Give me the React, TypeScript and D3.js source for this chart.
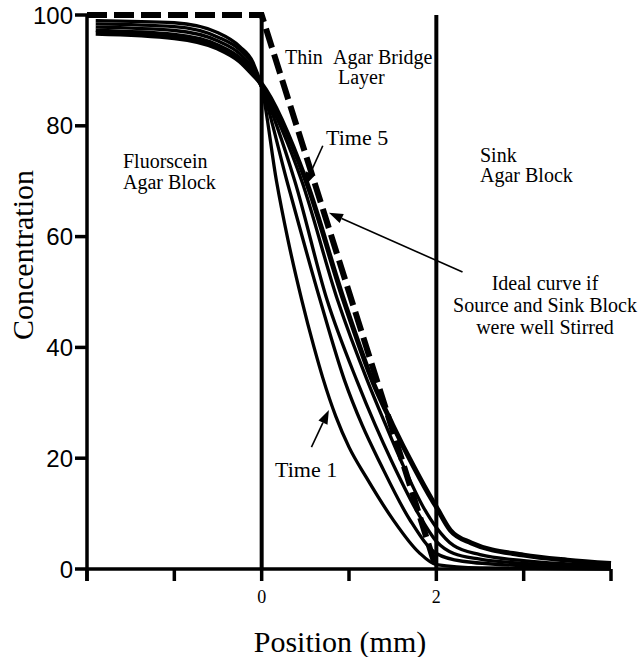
import React from 'react';
import * as d3 from 'd3';

// concentration profiles, [position mm, concentration]
const time1 = [[-1.9, 99.0], [-1, 98.6], [-0.5, 96.8], [-0.25, 94.3], [-0.1, 91.5], [0, 87], [0.17, 70], [0.3, 59.5], [0.46, 48.5], [0.6, 40], [0.7, 34.5], [0.85, 27.5], [1.0, 22], [1.2, 16.5], [1.5, 9], [1.8, 3], [2, 0.8], [2.5, 0.2], [4, 0]];
const time2 = [[-1.9, 98.4], [-1, 97.9], [-0.5, 96.0], [-0.25, 93.7], [-0.1, 91], [0, 87], [0.29, 70], [0.67, 48.5], [0.95, 34], [1.15, 26], [1.36, 19], [1.7, 8.8], [2, 2.8], [2.3, 1.4], [3, 0.6], [4, 0.2]];
const time3 = [[-1.9, 97.8], [-1, 97.2], [-0.5, 95.3], [-0.25, 93.0], [-0.1, 90.3], [0, 87], [0.38, 70], [0.75, 48.5], [1.09, 34], [1.3, 26], [1.49, 19.4], [1.8, 9.8], [2, 5], [2.2, 2.8], [2.5, 1.8], [3, 1], [4, 0.4]];
const time4 = [[-1.9, 97.2], [-1, 96.5], [-0.5, 94.6], [-0.25, 92.3], [-0.1, 89.8], [0, 87], [0.46, 70], [0.87, 48.5], [1.21, 34], [1.42, 26], [1.6, 19.4], [1.85, 11.2], [2, 7.5], [2.2, 4.2], [2.5, 2.6], [3, 1.5], [4, 0.6]];
const time5 = [[-1.9, 96.7], [-1, 95.9], [-0.5, 94.0], [-0.25, 91.7], [-0.1, 89.3], [0, 87.5], [0.51, 70], [0.94, 48.5], [1.28, 33.5], [1.5, 26], [1.74, 18.5], [1.95, 12.5], [2, 11.2], [2.16, 7], [2.4, 4.7], [3, 2.5], [3.5, 1.6], [4, 1.0]];
const idealCurve = [[-2, 100], [0, 100], [2, 0]];

const xTicks = [-2, -1, 0, 1, 2, 3, 4];
const xTickLabels = ['', '', '0', '', '2', '', ''];
const yTicks = [0, 20, 40, 60, 80, 100];
const boundaries = [0, 2];

const W = 641;
const H = 657;

const serif = '"Liberation Serif", "Times New Roman", serif';
const sans = '"Liberation Sans", Arial, sans-serif';

const Arrow = ({ x1, y1, x2, y2 }) => {
  // line ending in a filled head at (x2, y2)
  const ang = Math.atan2(y2 - y1, x2 - x1);
  const len = 14;
  const half = 5;
  const bx = x2 - len * Math.cos(ang);
  const by = y2 - len * Math.sin(ang);
  const px = -Math.sin(ang) * half;
  const py = Math.cos(ang) * half;
  return (
    <g>
      <line x1={x1} y1={y1} x2={bx} y2={by} stroke="#000" strokeWidth={1.6} />
      <polygon points={`${x2},${y2} ${bx + px},${by + py} ${bx - px},${by - py}`} fill="#000" />
    </g>
  );
};

const App = () => {
  const x = d3.scaleLinear().domain([-2, 4]).range([87, 611]);
  const y = d3.scaleLinear().domain([0, 100]).range([569, 15]);

  const line = d3.line()
    .x((d) => x(d[0]))
    .y((d) => y(d[1]))
    .curve(d3.curveMonotoneX);
  const straight = d3.line()
    .x((d) => x(d[0]))
    .y((d) => y(d[1]));

  const thin = [time1, time2, time3, time4];

  return (
    <svg width={W} height={H} style={{ position: 'absolute', left: 0, top: 0, background: '#fff' }}>
      {/* block boundaries */}
      {boundaries.map((b) => (
        <line key={b} x1={x(b)} x2={x(b)} y1={y(0)} y2={y(100)} stroke="#000" strokeWidth={4} />
      ))}

      {/* ideal curve */}
      <path d={straight(idealCurve)} fill="none" stroke="#000" strokeWidth={6} strokeDasharray="20 7" />

      {/* time curves */}
      {thin.map((s, i) => (
        <path key={i} d={line(s)} fill="none" stroke="#000" strokeWidth={3.3} />
      ))}
      <path d={line(time5)} fill="none" stroke="#000" strokeWidth={5} />

      {/* axes */}
      <line x1={x(-2)} x2={x(-2)} y1={y(100)} y2={y(0) + 12} stroke="#000" strokeWidth={3.5} />
      <line x1={x(-2)} x2={x(4)} y1={y(0)} y2={y(0)} stroke="#000" strokeWidth={3.5} />
      {xTicks.map((t, i) => (
        <g key={t}>
          <line x1={x(t)} x2={x(t)} y1={y(0)} y2={y(0) + 12} stroke="#000" strokeWidth={3.5} />
          {xTickLabels[i] && (
            <text x={x(t)} y={603} textAnchor="middle" fontFamily={serif} fontSize={18}>{xTickLabels[i]}</text>
          )}
        </g>
      ))}
      {yTicks.map((t) => (
        <g key={t}>
          <line x1={x(-2) - 12} x2={x(-2)} y1={y(t)} y2={y(t)} stroke="#000" strokeWidth={3.5} />
          <text x={x(-2) - 14} y={y(t)} dy="0.36em" textAnchor="end" fontFamily={sans} fontSize={24}>{t}</text>
        </g>
      ))}

      {/* axis titles */}
      <text transform="translate(33,255) rotate(-90)" textAnchor="middle" fontFamily={serif} fontSize={30}>Concentration</text>
      <text x={340} y={652} textAnchor="middle" fontFamily={serif} fontSize={30}>Position (mm)</text>

      {/* annotations */}
      <g fontFamily={serif} fontSize={20}>
        <text x={123} y={168}>Fluorscein</text>
        <text x={123} y={189}>Agar Block</text>
        <text x={480} y={162}>Sink</text>
        <text x={480} y={182}>Agar Block</text>
        <text x={285} y={64}>Thin</text>
        <text x={333} y={64}>Agar Bridge</text>
        <text x={338} y={84}>Layer</text>
        <text x={545} y={290} textAnchor="middle">Ideal curve if</text>
        <text x={545} y={312} textAnchor="middle">Source and Sink Block</text>
        <text x={545} y={334} textAnchor="middle">were well Stirred</text>
      </g>
      <g fontFamily={serif} fontSize={22}>
        <text x={326} y={145}>Time 5</text>
        <text x={275} y={477}>Time 1</text>
      </g>
      <Arrow x1={x(0.7)} y1={y(76.4)} x2={x(0.49)} y2={y(69.1)} />
      <Arrow x1={x(0.57)} y1={y(22)} x2={x(0.77)} y2={y(28.7)} />
      <Arrow x1={x(2.3)} y1={y(53.6)} x2={x(0.77)} y2={y(64.3)} />
    </svg>
  );
};

export default App;
